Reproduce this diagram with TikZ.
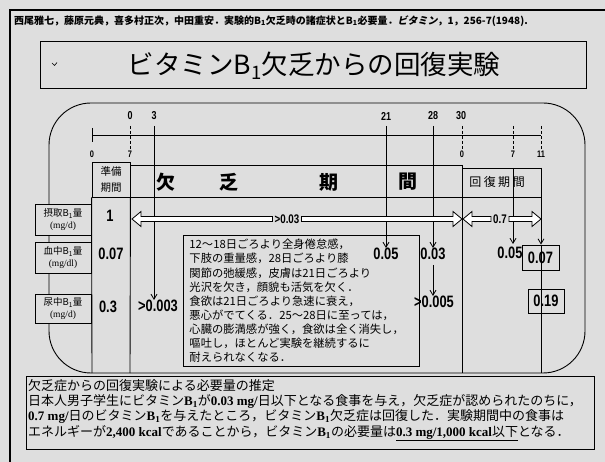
\documentclass[tikz,border=0pt]{standalone}
\usepackage{fontspec}
\setmainfont{Liberation Serif}
\newfontfamily\jp{Noto Sans CJK JP}
\newfontfamily\jpi[FakeSlant=0.2]{Noto Sans CJK JP}
\newfontfamily\numf[FakeStretch=0.78]{Liberation Sans}
\newfontfamily\ser{Liberation Serif}
\usetikzlibrary{arrows.meta,calc}
\definecolor{bgc}{gray}{0.87}
\newcommand\fsz[2]{\fontsize{#1}{#2}\selectfont}
\newcommand\bsub[1]{\textsubscript{#1}}
\newcommand\hollowR[2]{\draw[hol] let \p1=(#1), \p2=(#2) in (\x1,\y1+2.5pt) -- (\x2-9pt,\y1+2.5pt) -- (\x2-9pt,\y1+7.5pt) -- (\x2,\y1) -- (\x2-9pt,\y1-7.5pt) -- (\x2-9pt,\y1-2.5pt) -- (\x1,\y1-2.5pt) -- cycle;}
\newcommand\hollowL[2]{\draw[hol] let \p1=(#1), \p2=(#2) in (\x1,\y1+2.5pt) -- (\x2+9pt,\y1+2.5pt) -- (\x2+9pt,\y1+7.5pt) -- (\x2,\y1) -- (\x2+9pt,\y1-7.5pt) -- (\x2+9pt,\y1-2.5pt) -- (\x1,\y1-2.5pt) -- cycle;}
\begin{document}
\begin{tikzpicture}[x=1pt,y=-1pt,
  ln/.style={line width=0.9pt},
  dsh/.style={line width=0.9pt, dash pattern=on 3pt off 2pt},
  num/.style={font=\numf\bfseries\fsz{16.5}{17}, inner sep=0pt},
  midnum/.style={font=\numf\bfseries\fsz{12.5}{13}, inner sep=2pt},
  toplab/.style={font=\numf\bfseries\fsz{11.5}{12}, inner sep=0pt},
  lowlab/.style={font=\numf\bfseries\fsz{9.5}{10}, inner sep=0pt},
  lbox/.style={draw, line width=0.9pt, fill=bgc, minimum width=56, align=center, inner sep=0pt, font=\jp\fsz{9.5}{12}},
  nbox/.style={draw, line width=0.9pt, inner sep=0pt, font=\numf\bfseries\fsz{16.5}{17}},
  arr/.style={line width=0.8pt, -{Straight Barb[length=5pt,width=6pt]}},
  hol/.style={draw, line width=0.8pt, fill=white},
  head/.style={font=\jp\bfseries\fsz{19}{20}, inner sep=0pt}]
\useasboundingbox (0,0) rectangle (605,462);
\fill[bgc] (0,0) rectangle (605,462);
\draw[line width=1.6pt] (10,462) -- (10,10) -- (605,10);
% citation
\node[anchor=west, font=\jp\bfseries\fsz{10}{11}, inner sep=0pt] (cite) at (14,21) {西尾雅七，藤原元典，喜多村正次，中田重安．実験的B\bsub{1}欠乏時の諸症状とB\bsub{1}必要量．{\jpi ビタミン}，1，256-7(1948).};
% title
\node[draw, ln, minimum width=546, minimum height=47, inner sep=0pt] (tbox) at (313,64.5) {};
\node[font=\jp\fsz{26.5}{30}, inner sep=0pt] (title) at (314,66) {ビタミンB\bsub{1}欠乏からの回復実験};
\draw[line width=0.6pt] (52,63) -- (54.5,65.5) -- (57,62.5);
% rounded frame
\draw[ln, rounded corners=42] (49,103) rectangle (585,373);
% axis
\coordinate (ax0) at (92,135);
\coordinate (ax11) at (541,135);
\draw[ln] (ax0) -- (ax11);
\draw[ln] (92,128) -- (92,142);
% top labels
\node[toplab] (t0) at (130,116) {0};
\node[toplab] (t3) at (154,116) {3};
\node[toplab] (t21) at (386,116) {21};
\node[toplab] (t28) at (433,116) {28};
\node[toplab] (t30) at (461,116) {30};
% low labels
\node[lowlab] (l0) at (92,154) {0};
\node[lowlab] (l7) at (130,154) {7};
\node[lowlab] (l0b) at (462,154) {0};
\node[lowlab] (l7b) at (513,154) {7};
\node[lowlab] (l11) at (541,154) {11};
% dashed ticks
\draw[dsh] (130,126) -- (l7.north);
\draw[dsh] (462,126) -- (l0b.north);
\draw[dsh] (513,126) -- (l7b.north);
\draw[dsh] (541,126) -- (l11.north);
% header row
\node[draw, ln, minimum width=38, minimum height=35, inner sep=0pt, align=center, font=\jp\fsz{10.5}{15.5}] (prep) at (111,179.5) {準備\\期間};
\draw[ln] (130,165) -- (462,165);
\draw[ln] (462,168) -- (541,168);
\draw[ln] (130,197) -- (541,197);
\draw[ln] (prep.south west) -- (92,373);
\draw[ln] (prep.south east) -- (130,373);
\draw[ln] (462,165) -- (462,373);
\node[head] (h1) at (166,182) {欠};
\node[head] (h2) at (229,182) {乏};
\node[head] (h3) at (329,182) {期};
\node[head] (h4) at (408,182) {間};
\node[font=\jp\fsz{12}{13}, inner sep=0pt] (recov) at (497,182) {回\hspace{2.5pt}復\hspace{2.5pt}期\hspace{2.5pt}間};
% left labels
\node[lbox, minimum height=31] (lb1) at (63,219.5) {摂取B\bsub{1}量\\{\ser (mg/d)}};
\node[lbox, minimum height=31] (lb2) at (63,257.5) {血中B\bsub{1}量\\{\ser (mg/dl)}};
\node[lbox, minimum height=29] (lb3) at (63,308.5) {尿中B\bsub{1}量\\{\ser (mg/d)}};
% symptom box
\node[draw, ln, fill=bgc, anchor=north west, text width=224, inner xsep=6pt, inner ysep=0pt, minimum height=131, align=left, font=\jp\fsz{11.3}{14.1}] (sym) at (183,235) {12～18日ごろより全身倦怠感，\\下肢の重量感，28日ごろより膝\\関節の弛緩感，皮膚は21日ごろより\\光沢を欠き，顔貌も活気を欠く．\\食欲は21日ごろより急速に衰え，\\悪心がでてくる．25～28日に至っては，\\心臓の膨満感が強く，食欲は全く消失し，\\嘔吐し，ほとんど実験を継続するに\\耐えられなくなる．};
% values
\node[num] (v1) at (110,216) {1};
\node[num] (v2) at (111,254) {0.07};
\node[num] (v3) at (108,307) {0.3};
\node[num] (v4) at (158,306) {>0.003};
\node[num] (v5) at (386,254) {0.05};
\node[num] (v6) at (433,254) {0.03};
\node[num] (v7) at (434,302) {>0.005};
\node[num] (v8) at (510,253) {0.05};
\node[nbox, minimum width=37, minimum height=25] (b07) at (540.5,257.5) {0.07};
\node[nbox, minimum width=36, minimum height=24] (b19) at (546,301) {0.19};
% vertical arrows
\draw[arr] (154,126) -- (v4.north -| 154,0);
\draw[arr] (386,126) -- (v5.north);
\draw[arr] (433,126) -- (v6.north);
\draw[arr] (433,265) -- (v7.north -| 433,0);
\draw[arr] (513,168) -- (513,244);
\draw[arr] (541,168) -- (b07.north -| 541,0);
\draw[ln] (b07.north -| 541,0) -- (541,373);
% intake arrows
\node[midnum] (m003) at (287,219) {>0.03};
\node[midnum] (m07) at (500,219) {0.7};
\coordinate (tipA) at (132,218);
\coordinate (tipB) at (462,218);
\coordinate (tipC) at (463,218);
\coordinate (tipD) at (541,218);
\hollowL{m003.west}{tipA}
\hollowR{m003.east}{tipB}
\hollowL{m07.west}{tipC}
\hollowR{m07.east}{tipD}
% explanation box
\draw[ln, fill=bgc] (26,376) rectangle (594,449);
\node[anchor=north west, align=left, inner sep=0pt, font=\jp\fsz{13}{15.3}] (expl) at (28,379) {欠乏症からの回復実験による必要量の推定\\日本人男子学生にビタミン{\ser\bfseries B\bsub{1}}が{\ser\bfseries 0.03 mg/}日以下となる食事を与え，欠乏症が認められたのちに，\\{\ser\bfseries 0.7 mg/}日のビタミン{\ser\bfseries B\bsub{1}}を与えたところ，ビタミン{\ser\bfseries B\bsub{1}}欠乏症は回復した．実験期間中の食事は\\エネルギーが{\ser\bfseries 2,400 kcal}であることから，ビタミン{\ser\bfseries B\bsub{1}}の必要量は\underline{{\ser\bfseries 0.3 mg/1,000 kcal}以下}となる．};
\end{tikzpicture}
\end{document}
